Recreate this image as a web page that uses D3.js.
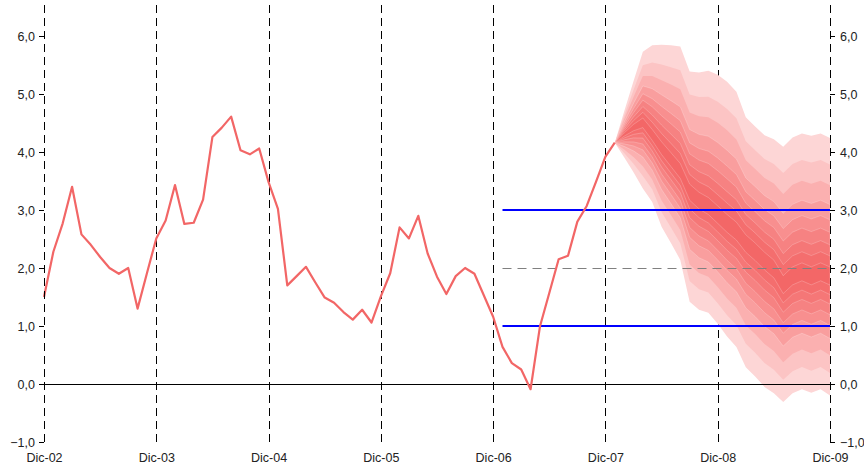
<!DOCTYPE html>
<html>
<head>
<meta charset="utf-8">
<script src="https://cdn.jsdelivr.net/npm/d3@7"></script>
<style>
  html, body { margin: 0; padding: 0; background: #fff; }
  svg { display: block; }
  text { font-family: "Liberation Sans", Arial, sans-serif; font-size: 12.5px; fill: #222; }
</style>
</head>
<body>
<svg id="chart" width="864" height="470"></svg>
<script>
// ---- Data ----
const yearLabels = ["Dic-02", "Dic-03", "Dic-04", "Dic-05", "Dic-06", "Dic-07", "Dic-08", "Dic-09"];
const yTicks = [-1, 0, 1, 2, 3, 4, 5, 6];

// Monthly observed inflation, starting Dic-02 (month index 0)
const histValues = [
  1.50, 2.28, 2.77, 3.40, 2.58, 2.40, 2.19, 2.00, 1.90, 2.00, 1.30, 1.91,
  2.51, 2.82, 3.43, 2.76, 2.78, 3.18, 4.26, 4.42, 4.61, 4.03, 3.96, 4.06,
  3.48, 3.02, 1.70, 1.86, 2.02, 1.75, 1.49, 1.40, 1.24, 1.11, 1.28, 1.06,
  1.51, 1.91, 2.70, 2.51, 2.90, 2.25, 1.85, 1.55, 1.86, 2.00, 1.90, 1.53,
  1.16, 0.64, 0.36, 0.25, -0.09, 0.99, 1.57, 2.15, 2.21, 2.80, 3.07, 3.49,
  3.92, 4.16
];

// Fan chart, monthly from month index 61 to 84
const fanStart = 61;
const fanCenter = [4.16, 4.30, 4.42, 4.50, 4.28, 4.05, 3.85, 3.65, 3.30, 3.15, 3.05, 2.90,
                   2.75, 2.62, 2.42, 2.28, 2.12, 1.98, 1.70, 1.85, 1.92, 1.85, 1.92, 1.85];
const fanTop    = [4.16, 4.70, 5.22, 5.73, 5.84, 5.85, 5.84, 5.82, 5.39, 5.37, 5.40, 5.33,
                   5.21, 5.04, 4.60, 4.44, 4.29, 4.22, 4.09, 4.25, 4.32, 4.28, 4.32, 4.24];
const fanBottom = [4.16, 3.91, 3.65, 3.37, 3.14, 2.71, 2.43, 2.14, 1.42, 1.28, 1.23, 1.04,
                   0.82, 0.64, 0.29, 0.13, -0.05, -0.16, -0.31, -0.16, -0.09, -0.15, -0.09, -0.20];
// Position of each band edge as share of the distance centre -> outer edge (outer to inner)
const bandShares = [1, 0.81, 0.66, 0.52, 0.41, 0.32, 0.23, 0.15, 0.07];
const bandColors = ["#fdd6d6", "#fcc4c4", "#fbb0b0", "#f99e9e", "#f88f8f", "#f68282", "#f57777", "#f46e6e", "#f36767"];

const targetLow = 1, targetMid = 2, targetHigh = 3;
const targetStart = 49; // month index where target lines start
const lastMonth = 84;

// ---- Layout ----
const svg = d3.select("#chart");
const x = d3.scaleLinear().domain([0, lastMonth]).range([44, 830]);
const y = d3.scaleLinear().domain([-1, 6]).range([442, 36]);
const gridTop = 5, gridBottom = 445;
const yc = v => Math.round(y(v)) + 0.5; // crisp horizontal lines

// interior vertical dashed grid lines (beneath fan)
const yearIdx = yearLabels.map((d, i) => i * 12);
svg.append("g").selectAll("line")
  .data(yearIdx.slice(1, -1))
  .join("line")
  .attr("x1", d => Math.round(x(d)) + 0.5).attr("x2", d => Math.round(x(d)) + 0.5)
  .attr("y1", gridTop).attr("y2", gridBottom)
  .attr("stroke", "#000").attr("stroke-width", 1)
  .attr("stroke-dasharray", "8,5");

// fan
const fanData = fanCenter.map((c, i) => ({ m: fanStart + i, c, t: fanTop[i], b: fanBottom[i] }));
const fanG = svg.append("g");
bandShares.forEach((s, k) => {
  const area = d3.area()
    .x(d => x(d.m))
    .y0(d => y(d.c - s * (d.c - d.b)))
    .y1(d => y(d.c + s * (d.t - d.c)));
  fanG.append("path").datum(fanData)
    .attr("d", area)
    .attr("fill", bandColors[k])
    .attr("stroke", k >= 3 ? "rgba(255,255,255,0.35)" : "none")
    .attr("stroke-width", 0.6);
});

// zero line
svg.append("line")
  .attr("x1", x(0)).attr("x2", x(lastMonth))
  .attr("y1", yc(0)).attr("y2", yc(0))
  .attr("stroke", "#000").attr("stroke-width", 1);

// target range
[targetLow, targetHigh].forEach(v => {
  svg.append("line")
    .attr("x1", x(targetStart)).attr("x2", x(lastMonth))
    .attr("y1", Math.round(y(v))).attr("y2", Math.round(y(v)))
    .attr("stroke", "#0000ff").attr("stroke-width", 2);
});
svg.append("line")
  .attr("x1", x(targetStart)).attr("x2", x(lastMonth))
  .attr("y1", yc(targetMid)).attr("y2", yc(targetMid))
  .attr("stroke", "#808080").attr("stroke-width", 1)
  .attr("stroke-dasharray", "9,6");

// historical line
const line = d3.line().x((d, i) => x(i)).y(d => y(d));
svg.append("path").datum(histValues)
  .attr("d", line)
  .attr("fill", "none")
  .attr("stroke", "#f26666")
  .attr("stroke-width", 2.2)
  .attr("stroke-linejoin", "round");

// axes (dashed axis lines)
[0, lastMonth].forEach(m => {
  svg.append("line")
    .attr("x1", Math.round(x(m)) + 0.5).attr("x2", Math.round(x(m)) + 0.5)
    .attr("y1", gridTop).attr("y2", gridBottom)
    .attr("stroke", "#000").attr("stroke-width", 1)
    .attr("stroke-dasharray", "8,5");
});
const fmt = v => d3.format(".1f")(v).replace(".", ",");
const leftAxis = d3.axisLeft(y).tickValues(yTicks).tickSize(5).tickPadding(4).tickFormat(fmt);
const rightAxis = d3.axisRight(y).tickValues(yTicks).tickSize(5).tickPadding(5).tickFormat(fmt);
const gl = svg.append("g").attr("transform", `translate(${Math.round(x(0))},0)`).call(leftAxis);
const gr = svg.append("g").attr("transform", `translate(${Math.round(x(lastMonth))},0)`).call(rightAxis);
[gl, gr].forEach(g => {
  g.select(".domain").remove();
  g.selectAll("line").attr("stroke", "#000").attr("shape-rendering", "crispEdges");
  g.selectAll("text").attr("font-size", 12.5).attr("fill", "#222")
    .attr("font-family", "Liberation Sans, Arial, sans-serif");
});

// bottom labels
const xAxis = d3.axisBottom(x).tickValues(yearIdx).tickSize(0).tickPadding(0)
  .tickFormat((d, i) => yearLabels[i]);
const gx = svg.append("g").attr("transform", `translate(0,${453})`).call(xAxis);
gx.select(".domain").remove();
gx.selectAll("text").attr("font-size", 12.5).attr("fill", "#222")
  .attr("font-family", "Liberation Sans, Arial, sans-serif");
</script>
</body>
</html>
